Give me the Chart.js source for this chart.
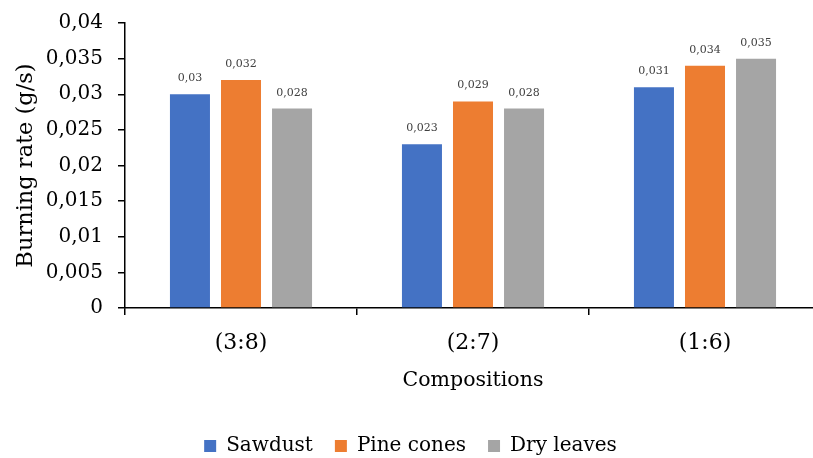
<!DOCTYPE html>
<html>
<head>
<meta charset="utf-8">
<script src="https://cdn.jsdelivr.net/npm/chart.js@4"></script>
<style>
  html, body { margin: 0; padding: 0; background: #fff; overflow: hidden; }
  #wrap { width: 813px; height: 458px; overflow: hidden; }
</style>
</head>
<body>
<div id="wrap"><canvas id="myChart" width="830" height="458"></canvas></div>
<script>
// values
var compositions = ["(3:8)", "(2:7)", "(1:6)"];
var sawdust = [0.030, 0.023, 0.031];
var pineCones = [0.032, 0.029, 0.034];
var dryLeaves = [0.028, 0.028, 0.035];
var seriesNames = ["Sawdust", "Pine cones", "Dry leaves"];
var colors = ["#4472C4", "#ED7D31", "#A5A5A5"];

var serif = "'DejaVu Serif', serif";

function comma(v) {
  return Number(v.toFixed(3)).toString().replace(".", ",");
}

// little plugin for the value labels above each bar
var barLabels = {
  id: "barLabels",
  afterDatasetsDraw: function(chart) {
    var ctx = chart.ctx;
    ctx.save();
    ctx.font = "11px " + serif;
    ctx.fillStyle = "#404040";
    ctx.textAlign = "center";
    ctx.textBaseline = "alphabetic";
    chart.data.datasets.forEach(function(ds, i) {
      chart.getDatasetMeta(i).data.forEach(function(bar, j) {
        ctx.fillText(comma(ds.data[j]), bar.x, bar.y - 13);
      });
    });
    ctx.restore();
  }
};

var data = {
  labels: compositions,
  datasets: [
    { label: seriesNames[0], data: sawdust, backgroundColor: colors[0] },
    { label: seriesNames[1], data: pineCones, backgroundColor: colors[1] },
    { label: seriesNames[2], data: dryLeaves, backgroundColor: colors[2] }
  ]
};

new Chart(document.getElementById("myChart"), {
  type: "bar",
  data: data,
  plugins: [barLabels],
  options: {
    responsive: false,
    animation: false,
    devicePixelRatio: 1,
    categoryPercentage: 0.66,
    barPercentage: 0.784,
    layout: { padding: { top: 19, right: 9, left: 0, bottom: -8 } },
    plugins: {
      tooltip: { enabled: false },
      legend: {
        position: "bottom",
        labels: {
          font: { family: serif, size: 20 },
          color: "#000",
          boxWidth: 12,
          boxHeight: 12,
          padding: 22
        }
      }
    },
    scales: {
      x: {
        grid: { display: true, drawOnChartArea: false, drawTicks: true, tickLength: 7, color: "#000", lineWidth: 1.5 },
        border: { display: true, color: "#000", width: 1.5 },
        ticks: { font: { family: serif, size: 22 }, color: "#000", padding: 15 },
        title: { display: true, text: "Compositions", font: { family: serif, size: 20.5 }, color: "#000", padding: { top: 0, bottom: 21 } },
        afterFit: function(scale) { scale.height = 106; }
      },
      y: {
        min: 0,
        max: 0.04,
        grid: { display: true, drawOnChartArea: false, drawTicks: true, tickLength: 7, color: "#000", lineWidth: 1.5 },
        border: { display: true, color: "#000", width: 1.5 },
        ticks: {
          stepSize: 0.005,
          font: { family: serif, size: 20, lineHeight: 0.8 },
          color: "#000",
          padding: 15,
          callback: function(v) { return comma(v); }
        },
        title: { display: true, text: "Burning rate (g/s)", font: { family: serif, size: 22.5 }, color: "#000", padding: { top: 13, bottom: 0 } },
        afterFit: function(scale) { scale.width = 125; }
      }
    }
  }
});
</script>
</body>
</html>
